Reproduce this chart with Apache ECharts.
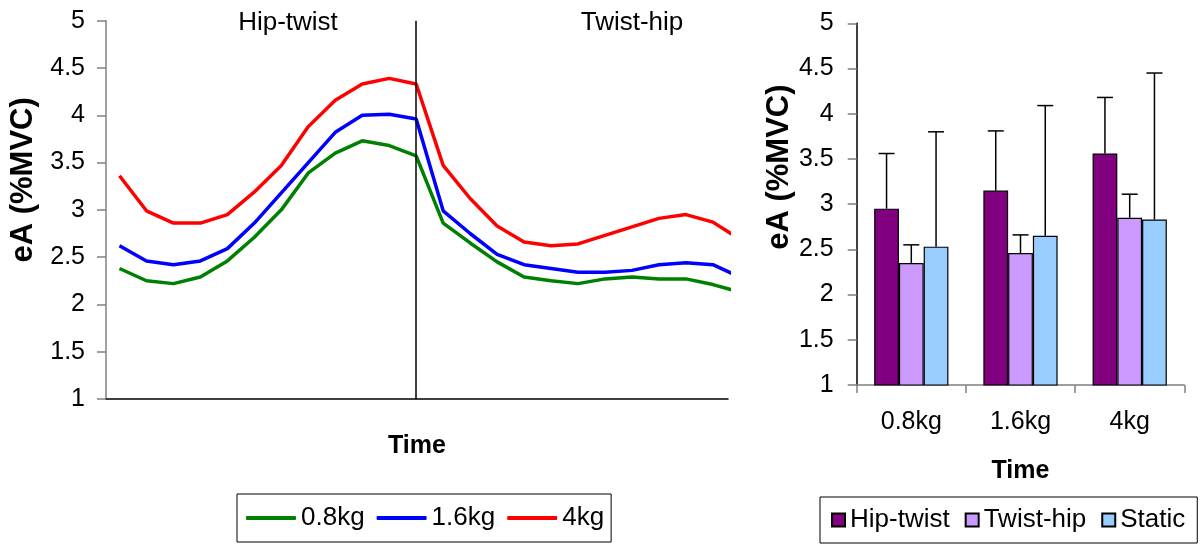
<!DOCTYPE html>
<html>
<head>
<meta charset="utf-8">
<script src="https://cdn.jsdelivr.net/npm/echarts@6/dist/echarts.min.js"></script>
<style>
  html, body { margin: 0; padding: 0; background: #fff; }
  #chart { width: 1204px; height: 545px; }
</style>
</head>
<body>
<div id="chart"></div>
<script>
// Left panel: eA over the lift cycle, one line per load
const loadNames = ['0.8kg', '1.6kg', '4kg'];
const load08 = [2.38, 2.25, 2.22, 2.29, 2.46, 2.71, 3.00, 3.39, 3.60, 3.73, 3.68, 3.57,
                2.86, 2.65, 2.45, 2.29, 2.25, 2.22, 2.27, 2.29, 2.27, 2.27, 2.21, 2.13];
const load16 = [2.62, 2.46, 2.42, 2.46, 2.59, 2.86, 3.18, 3.50, 3.82, 4.00, 4.01, 3.96,
                2.99, 2.75, 2.53, 2.42, 2.38, 2.34, 2.34, 2.36, 2.42, 2.44, 2.42, 2.29];
const load4  = [3.36, 2.99, 2.86, 2.86, 2.95, 3.19, 3.47, 3.88, 4.16, 4.33, 4.39, 4.33,
                3.47, 3.12, 2.83, 2.66, 2.62, 2.64, 2.73, 2.82, 2.91, 2.95, 2.87, 2.69];
const phaseSplit = 11;            // sample where the hip-twist phase ends
const phaseLabels = ['Hip-twist', 'Twist-hip'];

// Right panel: mean eA (+SD) per load and technique
const weightCats = ['0.8kg', '1.6kg', '4kg'];
const techniqueNames = ['Hip-twist', 'Twist-hip', 'Static'];
const hipTwistMean  = [2.95, 3.15, 3.56];
const twistHipMean  = [2.35, 2.46, 2.85];
const staticMean    = [2.53, 2.65, 2.83];
const hipTwistSD    = [0.61, 0.66, 0.62];
const twistHipSD    = [0.20, 0.20, 0.26];
const staticSD      = [1.27, 1.44, 1.62];

const yTicks = { min: 1, max: 5, interval: 0.5 };
const axisTitle = 'eA (%MVC)';
const xTitle = 'Time';

const FONT = '"Liberation Sans", Arial, Helvetica, sans-serif';
const lineColors = ['#008000', '#0000FF', '#FF0000'];
const barColors = ['#800080', '#CC99FF', '#99CCFF'];
const CAT_GAP = 0.32;

const toXY = arr => arr.map((v, i) => [i, v]);

const lineSeries = [load08, load16, load4].map((arr, k) => ({
  name: loadNames[k],
  type: 'line',
  xAxisIndex: 0,
  yAxisIndex: 0,
  data: toXY(arr),
  symbol: 'none',
  showSymbol: false,
  clip: true,
  lineStyle: { color: lineColors[k], width: 3.5 },
  itemStyle: { color: lineColors[k] },
  z: 3,
  markLine: k === 0 ? {
    silent: true,
    symbol: 'none',
    label: { show: false },
    lineStyle: { color: '#000', width: 1.5, type: 'solid' },
    data: [{ xAxis: phaseSplit }]
  } : undefined
}));

const means = [hipTwistMean, twistHipMean, staticMean];
const sds = [hipTwistSD, twistHipSD, staticSD];

const barSeries = means.map((arr, k) => ({
  name: techniqueNames[k],
  type: 'bar',
  xAxisIndex: 1,
  yAxisIndex: 1,
  data: arr,
  barGap: '0%',
  barCategoryGap: (CAT_GAP * 100) + '%',
  itemStyle: { color: barColors[k], borderColor: '#000', borderWidth: 1.2 },
  z: 2
}));

const errData = [];
means.forEach((arr, k) => arr.forEach((v, j) => errData.push([j, v, sds[k][j], k])));

// Upper standard-deviation whiskers, centred on each bar of a group
const errorSeries = {
  type: 'custom',
  xAxisIndex: 1,
  yAxisIndex: 1,
  data: errData,
  z: 4,
  silent: true,
  renderItem: function (params, api) {
    const j = api.value(0), v = api.value(1), sd = api.value(2), k = api.value(3);
    const band = api.size([1, 0])[0];
    const barW = band * (1 - CAT_GAP) / 3;
    const base = api.coord([j, v]);
    const top = api.coord([j, v + sd]);
    const x = base[0] + (k - 1) * barW;
    const st = { stroke: '#000', lineWidth: 1.5 };
    return {
      type: 'group',
      children: [
        { type: 'line', shape: { x1: x, y1: base[1], x2: x, y2: top[1] }, style: st },
        { type: 'line', shape: { x1: x - 8, y1: top[1], x2: x + 8, y2: top[1] }, style: st }
      ]
    };
  }
};

function valueAxis(gridIndex, lineColor, margin, nameGap, namePad) {
  return {
    type: 'value',
    gridIndex: gridIndex,
    min: yTicks.min,
    max: yTicks.max,
    interval: yTicks.interval,
    name: axisTitle,
    nameLocation: 'middle',
    nameGap: nameGap,
    nameRotate: 90,
    nameTextStyle: {
      fontFamily: FONT, fontSize: 31, fontWeight: 'bold', color: '#000',
      padding: namePad
    },
    axisLine: { show: true, onZero: false, lineStyle: { color: lineColor, width: 1.5 } },
    axisTick: { show: true, inside: false, length: 9, lineStyle: { color: '#808080', width: 1.5 } },
    axisLabel: { fontFamily: FONT, fontSize: 25, color: '#000', margin: margin },
    splitLine: { show: false }
  };
}

const option = {
  animation: false,
  backgroundColor: '#fff',
  grid: [
    { left: 106, top: 20.7, right: 476, bottom: 146 },
    { left: 856.7, top: 23.3, right: 19.7, bottom: 160 }
  ],
  xAxis: [
    {
      type: 'value',
      gridIndex: 0,
      min: -0.5,
      max: 22.56,
      name: xTitle,
      nameLocation: 'middle',
      nameGap: 35,
      nameTextStyle: { fontFamily: FONT, fontSize: 25, fontWeight: 'bold', color: '#000' },
      axisLine: { show: true, onZero: false, lineStyle: { color: '#000', width: 1.5 } },
      axisTick: { show: false },
      axisLabel: { show: false },
      splitLine: { show: false }
    },
    {
      type: 'category',
      gridIndex: 1,
      data: weightCats,
      boundaryGap: true,
      name: xTitle,
      nameLocation: 'middle',
      nameGap: 74,
      nameTextStyle: { fontFamily: FONT, fontSize: 25, fontWeight: 'bold', color: '#000' },
      axisLine: { show: true, onZero: false, lineStyle: { color: '#808080', width: 1.5 } },
      axisTick: { show: true, length: 8, alignWithLabel: false, lineStyle: { color: '#808080', width: 1.5 } },
      axisLabel: { fontFamily: FONT, fontSize: 25, color: '#000', margin: 25 },
      splitLine: { show: false }
    }
  ],
  yAxis: [
    valueAxis(0, '#808080', 21, 55, [0, 0, 0, 60]),
    valueAxis(1, '#000', 23, 57, [0, 0, 0, 74])
  ],
  legend: [
    {
      data: loadNames,
      left: 237,
      top: 494,
      orient: 'horizontal',
      icon: 'roundRect',
      itemWidth: 50,
      itemHeight: 4,
      itemGap: 12,
      padding: [11, 7, 11, 9],
      borderColor: '#000',
      borderWidth: 1,
      textStyle: { fontFamily: FONT, fontSize: 26, color: '#000' }
    },
    {
      data: techniqueNames,
      left: 820,
      top: 497,
      orient: 'horizontal',
      icon: 'rect',
      itemWidth: 13,
      itemHeight: 13,
      itemGap: 15,
      padding: [10, 12, 10, 11],
      borderColor: '#000',
      borderWidth: 1,
      textStyle: { fontFamily: FONT, fontSize: 26, color: '#000' }
    }
  ],
  graphic: [
    {
      type: 'text', x: 288, y: 23,
      style: { text: phaseLabels[0], fontFamily: FONT, fontSize: 26, fill: '#000', align: 'center', verticalAlign: 'middle' }
    },
    {
      type: 'text', x: 632, y: 23,
      style: { text: phaseLabels[1], fontFamily: FONT, fontSize: 26, fill: '#000', align: 'center', verticalAlign: 'middle' }
    }
  ],
  series: [...lineSeries, ...barSeries, errorSeries]
};

const chart = echarts.init(document.getElementById('chart'), null, { renderer: 'canvas' });
chart.setOption(option);
</script>
</body>
</html>
